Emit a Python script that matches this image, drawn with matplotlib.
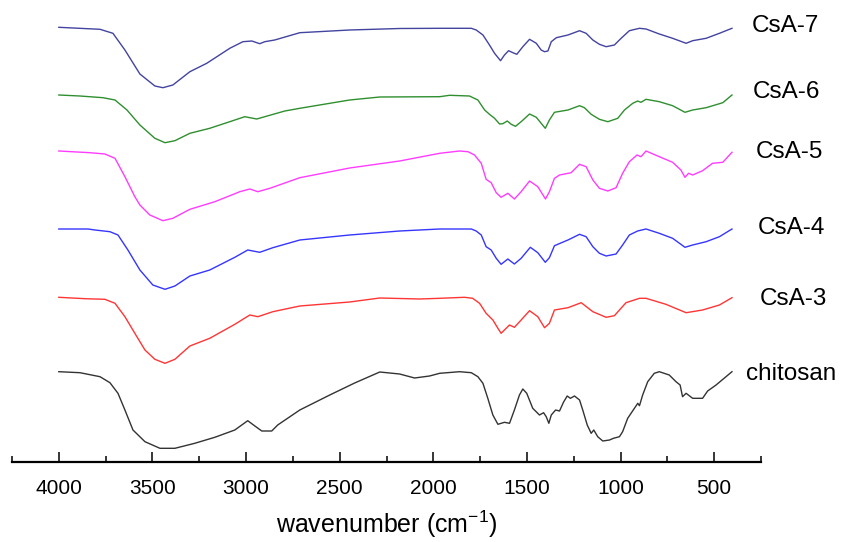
import matplotlib
matplotlib.use("Agg")
import matplotlib.pyplot as plt
from matplotlib.ticker import MultipleLocator

plt.rcParams['font.family'] = ['Liberation Sans', 'DejaVu Sans']
plt.rcParams['mathtext.fontset'] = 'custom'
plt.rcParams['mathtext.rm'] = 'Liberation Sans'
plt.rcParams['mathtext.it'] = 'Liberation Sans'

# FTIR spectra, transmittance (a.u., stacked)
csa7_wn = [4000, 3780, 3711, 3647, 3567, 3487, 3444, 3391, 3300, 3210, 3087, 3017, 2969, 2927, 2900,
           2847, 2713, 2447, 2180, 1966, 1797, 1771, 1735, 1700, 1673, 1641, 1620, 1598, 1575, 1554,
           1522, 1486, 1450, 1424, 1406, 1388, 1370, 1343, 1281, 1219, 1184, 1148, 1113, 1077, 1033,
           997, 953, 899, 864, 793, 722, 650, 615, 543, 472, 405]
csa7_t = [434.7, 432.7, 428.7, 412, 388, 376, 374.3, 377, 390.3, 398.7, 413.7, 420.3, 421, 418.3, 420.3,
          422, 429.3, 432, 433.5, 433.7, 433.7, 432, 427, 417, 408.7, 401.3, 407, 411.3, 409.3, 407.7,
          415.3, 422.7, 418.7, 412, 410.3, 411, 420.3, 424.3, 427, 431.3, 428.7, 422, 417.7, 415.3, 417,
          423.7, 431.3, 433.7, 433, 428, 423.7, 418.7, 421.3, 423.7, 428.7, 433.7]

csa6_wn = [4000, 3887, 3764, 3700, 3636, 3567, 3487, 3433, 3380, 3300, 3194, 3087, 3007, 2943, 2900,
           2793, 2713, 2447, 2286, 1966, 1913, 1807, 1762, 1726, 1700, 1673, 1646, 1629, 1605, 1584,
           1561, 1531, 1486, 1450, 1424, 1402, 1380, 1353, 1281, 1219, 1193, 1157, 1113, 1068, 1015,
           979, 935, 909, 891, 864, 793, 722, 656, 615, 543, 454, 405]
csa6_t = [367, 366, 364.3, 362, 352, 337, 323.7, 319.3, 321.3, 328.7, 333.7, 340.3, 345.3, 343, 345.3,
          351, 353.7, 362, 365, 365.3, 366.7, 366, 362, 352, 347.7, 343.7, 338, 338.3, 341, 337.7,
          335.7, 340.3, 348, 344.7, 338.7, 333.7, 342, 349.7, 352, 356.3, 354.3, 347.7, 342.7, 340.3, 343.7,
          352, 358.7, 361, 359.7, 362.7, 360.3, 356.3, 349.7, 352, 354.3, 359.3, 367]

csa5_wn = [4000, 3834, 3754, 3700, 3647, 3594, 3567, 3514, 3444, 3391, 3300, 3167, 3033, 2980, 2937,
           2873, 2713, 2447, 2180, 1966, 1860, 1815, 1780, 1744, 1718, 1691, 1664, 1638, 1602, 1567,
           1531, 1486, 1442, 1401, 1380, 1353, 1326, 1264, 1219, 1184, 1148, 1113, 1068, 1024, 989,
           953, 912, 891, 864, 793, 722, 678, 656, 637, 615, 562, 509, 454, 405]
csa5_t = [311, 309.3, 308, 303.7, 285.3, 265.3, 257, 247, 241.3, 243.7, 252.7, 260.3, 270.3, 273, 270.3,
          273.7, 284.3, 294, 301, 308.7, 311, 310.3, 307, 298.7, 282.7, 279.3, 269.3, 264.7, 268.7, 263,
          270.3, 281, 275.3, 263, 270.3, 283.7, 287, 289.3, 297.7, 295.3, 282, 273.7, 271, 274.3, 288.7,
          300.3, 307, 305.3, 311, 305.3, 299.7, 292, 284.7, 288.7, 287, 291.3, 298.7, 299.7, 309.7]

csa4_wn = [4000, 3844, 3807, 3727, 3684, 3631, 3567, 3498, 3433, 3380, 3300, 3194, 3060, 2991, 2927,
           2857, 2713, 2447, 2180, 1966, 1797, 1771, 1744, 1718, 1691, 1664, 1638, 1602, 1567, 1531,
           1482, 1442, 1402, 1380, 1353, 1281, 1219, 1184, 1148, 1113, 1077, 1024, 989, 953, 909,
           864, 793, 722, 656, 615, 543, 472, 405]
csa4_t = [233, 233, 232, 230.3, 227, 212, 192, 177, 172.7, 176, 186, 192, 204.7, 212, 209.7,
          214.3, 222, 227, 231, 233, 233, 231, 227, 215.3, 212, 203.7, 197.7, 203, 198, 203.7,
          214.7, 209.3, 199.7, 204.3, 216.3, 222, 227.7, 225.3, 215.3, 208.7, 206, 208, 217, 227, 231,
          233, 228.7, 223.7, 214.7, 217, 220.3, 225.3, 233]

csa3_wn = [4000, 3860, 3754, 3700, 3647, 3594, 3540, 3487, 3433, 3380, 3300, 3194, 3060, 2980, 2937,
           2857, 2713, 2447, 2286, 2073, 1966, 1834, 1790, 1753, 1718, 1682, 1655, 1638, 1611, 1593,
           1567, 1531, 1486, 1442, 1406, 1380, 1353, 1281, 1210, 1148, 1077, 1033, 971, 899, 864,
           758, 650, 562, 472, 405]
csa3_t = [164.7, 163.3, 162.7, 158.7, 145.3, 128.7, 112, 102.7, 98.7, 102.7, 116, 123.7, 137.7, 147, 145.3,
          150.3, 156, 160, 164, 163, 163.7, 164.7, 163.7, 158.7, 148.7, 142, 133.7, 128.7, 133.7, 137,
          134.7, 142, 151.3, 145.3, 134.3, 138.7, 152, 154.3, 159.3, 150.3, 144.7, 146.3, 159.3, 163.7, 163.7,
          157.7, 149.3, 152, 157, 164.3]

chitosan_wn = [4000, 3887, 3780, 3727, 3684, 3647, 3604, 3540, 3460, 3380, 3274, 3167, 3060, 2991, 2953,
               2916, 2863, 2831, 2713, 2553, 2420, 2286, 2180, 2100, 2020, 1966, 1860, 1797, 1762, 1735,
               1709, 1682, 1655, 1620, 1593, 1567, 1540, 1522, 1501, 1469, 1433, 1411, 1397, 1383, 1370,
               1347, 1326, 1305, 1285, 1268, 1246, 1219, 1202, 1178, 1157, 1143, 1122, 1095, 1059, 1038,
               1006, 989, 962, 926, 908, 899, 882, 855, 820, 793, 740, 704, 682, 669, 650,
               615, 562, 535, 490, 437, 405]
chitosan_t = [90.3, 89.3, 85.3, 79.3, 68.7, 52, 32, 20.3, 13.7, 13.7, 18.7, 24.7, 32, 41.3, 36,
              31, 31, 37, 52, 67, 79, 90, 88, 84, 86, 88.7, 90.3, 89.3, 85.3, 78.7,
              63.7, 47, 37.7, 39.7, 38.7, 52, 67, 73, 68.7, 53.7, 47, 49.3, 45.3, 38.7, 47,
              52, 51, 59.7, 66, 63.7, 66, 62, 52, 37, 28.7, 32, 25.3, 21, 22, 23.7,
              25.3, 30.3, 43.7, 53.7, 58.7, 56.3, 67, 80.3, 88.7, 90.3, 87, 80.3, 77, 65.3, 68.7,
              63.7, 63.7, 71, 77, 85.3, 90.3]

names = ['CsA-7', 'CsA-6', 'CsA-5', 'CsA-4', 'CsA-3', 'chitosan']
colors = ['#4343a0', '#2f8f2f', '#ff3cff', '#3535ff', '#ff3535', '#333333']
label_x = [302, 296, 280, 270, 259, 328]
label_y = [436, 370, 310, 234, 163, 88]

series = [(csa7_wn, csa7_t), (csa6_wn, csa6_t), (csa5_wn, csa5_t),
          (csa4_wn, csa4_t), (csa3_wn, csa3_t), (chitosan_wn, chitosan_t)]

fig = plt.figure(figsize=(8.46, 5.42), dpi=100)
ax = fig.add_axes([12 / 846, 80 / 542, 749 / 846, 462 / 542])

for (wn, t), c in zip(series, colors):
    ax.plot(wn, t, color=c, lw=1.0)

for name, x, y in zip(names, label_x, label_y):
    ax.text(x, y, name, fontsize=17.5, ha='left', va='center', clip_on=False)

ax.set_xlim(4250, 250)
ax.set_ylim(0, 462)
ax.xaxis.set_major_locator(MultipleLocator(500))
ax.xaxis.set_minor_locator(MultipleLocator(250))
for s in ['top', 'left', 'right']:
    ax.spines[s].set_visible(False)
ax.spines['bottom'].set_linewidth(1.6)
ax.set_yticks([])
ax.tick_params(axis='x', which='major', direction='in', length=7.5, width=1.1, labelsize=15, pad=12)
ax.tick_params(axis='x', which='minor', direction='in', length=4, width=1.1)
ax.set_xlabel('wavenumber (cm$^{-1}$)', fontsize=18, labelpad=8)

fig.savefig('out.png', dpi=100)
